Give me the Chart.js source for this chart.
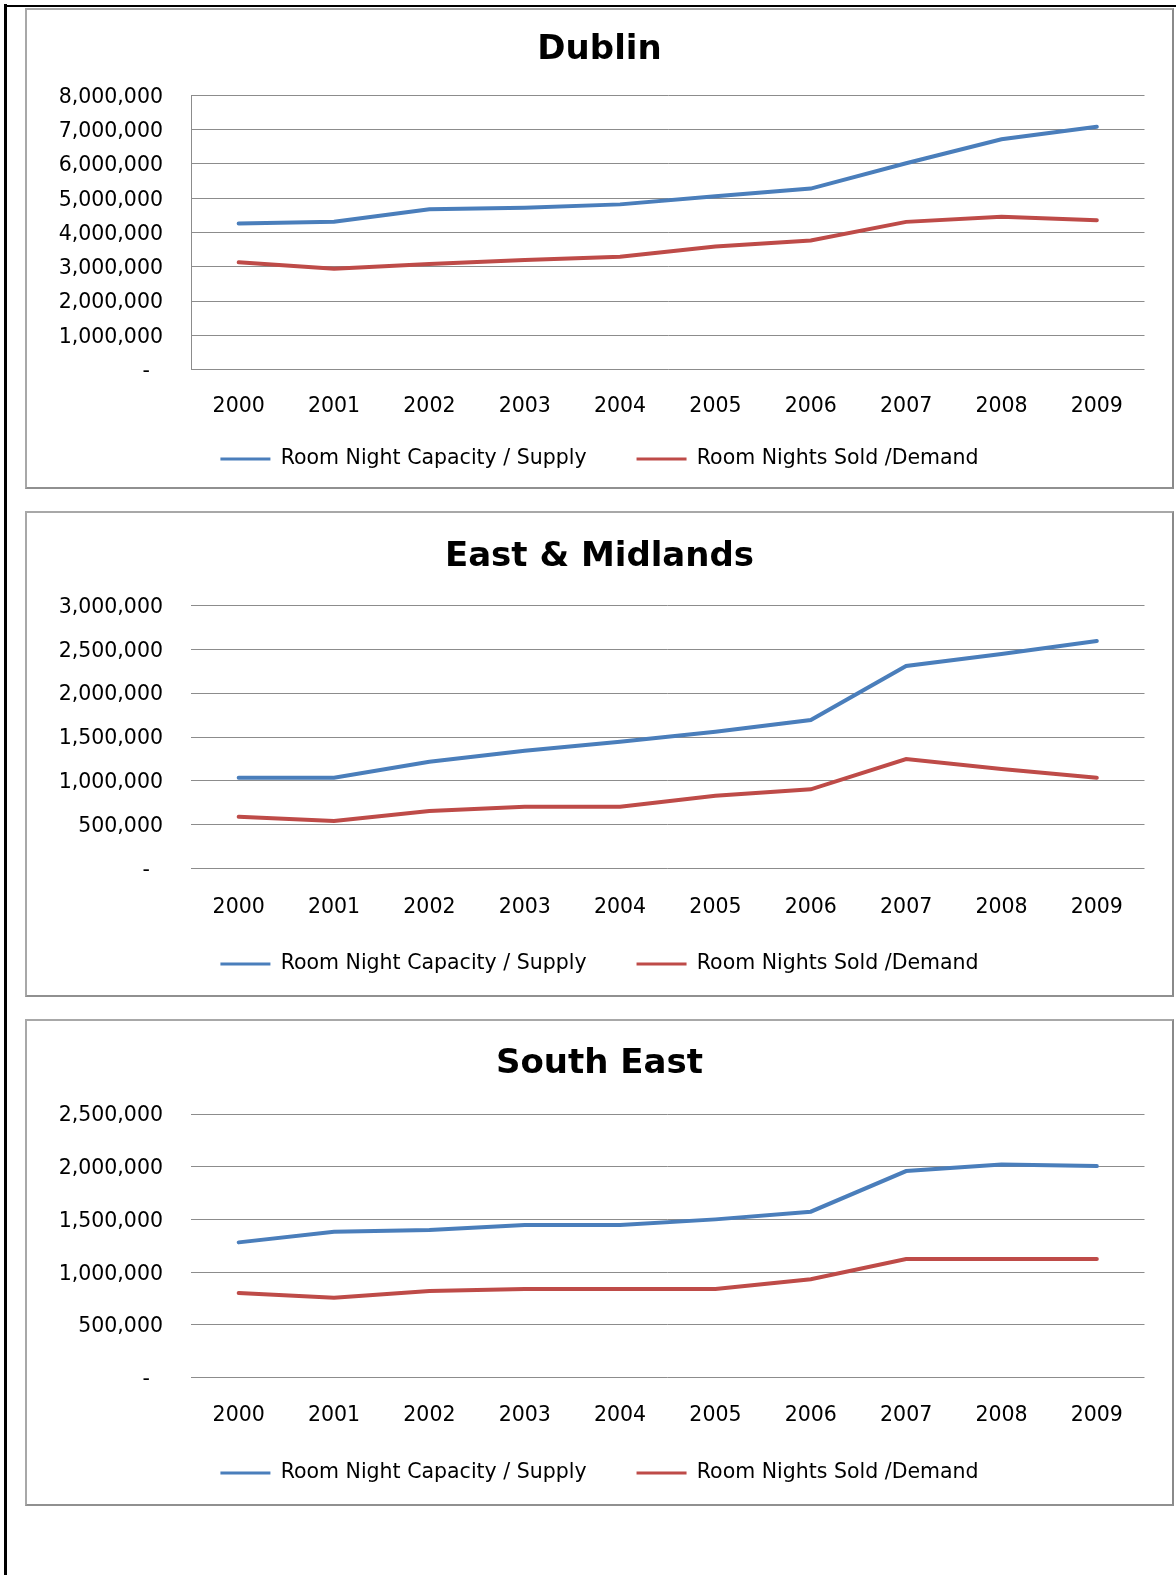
<!DOCTYPE html>
<html>
<head>
<meta charset="utf-8">
<script src="https://cdn.jsdelivr.net/npm/chart.js@4.4.1/dist/chart.umd.min.js"></script>
<style>
  body { margin: 0; background: #fff; width: 1176px; height: 1575px; position: relative; overflow: hidden; }
  .frame-left { position: absolute; left: 4px; top: 4px; width: 3px; height: 1571px; background: #000; }
  .frame-top { position: absolute; left: 4px; top: 5px; width: 1172px; height: 2px; background: #000; }
  .box { position: absolute; box-sizing: border-box; border: 2px solid #a8a8a8; border-right-color: #8a8a8a; border-bottom-color: #909090; background: #fff; }
  .box canvas { position: absolute; left: 0; top: 0; }
</style>
</head>
<body>
<div class="frame-left"></div>
<div class="frame-top"></div>
<div id="page"></div>

<script>
// categorias (años)
const years = ['2000', '2001', '2002', '2003', '2004', '2005', '2006', '2007', '2008', '2009'];

// Dublin
const dublinSupply = [4260000, 4315000, 4676000, 4720000, 4820000, 5060000, 5280000, 6020000, 6720000, 7080000];
const dublinDemand = [3130000, 2940000, 3080000, 3200000, 3290000, 3590000, 3770000, 4310000, 4460000, 4360000];
const dublinTicks = [0, 1000000, 2000000, 3000000, 4000000, 5000000, 6000000, 7000000, 8000000];

// East & Midlands
const eastSupply = [1037000, 1037000, 1219000, 1344000, 1447000, 1560000, 1694000, 2309000, 2445000, 2593000];
const eastDemand = [592000, 543000, 657000, 706000, 706000, 831000, 904000, 1249000, 1135000, 1036000];
const eastTicks = [0, 500000, 1000000, 1500000, 2000000, 2500000, 3000000];

// South East
const southSupply = [1283000, 1384000, 1400000, 1447000, 1447000, 1501000, 1574000, 1959000, 2022000, 2006000];
const southDemand = [803000, 759000, 822000, 841000, 841000, 841000, 933000, 1125000, 1125000, 1125000];
const southTicks = [0, 500000, 1000000, 1500000, 2000000, 2500000];

const seriesNames = ['Room Night Capacity / Supply', 'Room Nights Sold /Demand'];
const BLUE = '#4a7ebb';
const RED = '#be4b48';
const GRID = '#8c8c8c';
const FONT = 'DejaVu Sans';

// posiciones en la página (px)
const boxLeft = 25, boxRight = 1174, border = 2;
const plotLeft = 191, plotRight = 1144.5, yLabelRight = 163;

const panels = [
  { title: 'Dublin', supply: dublinSupply, demand: dublinDemand, ticks: dublinTicks, axisLine: true,
    top: 8, bottom: 489, titleY: 50.5, plotTop: 95.3, plotBottom: 369.7, labelY: 404, legendY: 459 },
  { title: 'East & Midlands', supply: eastSupply, demand: eastDemand, ticks: eastTicks, axisLine: false,
    top: 511, bottom: 997, titleY: 557, plotTop: 605.3, plotBottom: 868.7, labelY: 905, legendY: 964 },
  { title: 'South East', supply: southSupply, demand: southDemand, ticks: southTicks, axisLine: false,
    top: 1019, bottom: 1506, titleY: 1064, plotTop: 1114, plotBottom: 1377.7, labelY: 1413, legendY: 1473 }
];

// El eje X se ajusta más bajo que la leyenda: ampliar su zona de recorte para que se vean las etiquetas
const ampliarEjeX = {
  id: 'ampliarEjeX',
  afterLayout(chart) {
    const s = chart.scales.x;
    s.bottom = s.top + 80;
    s.height = 80;
  }
};

function crearGrafico(p) {
  const box = document.createElement('div');
  box.className = 'box';
  box.style.left = boxLeft + 'px';
  box.style.top = p.top + 'px';
  box.style.width = (boxRight - boxLeft) + 'px';
  box.style.height = (p.bottom - p.top) + 'px';
  document.getElementById('page').appendChild(box);

  const W = boxRight - boxLeft - 2 * border;
  const H = p.bottom - p.top - 2 * border;
  const offX = boxLeft + border;
  const offY = p.top + border;

  const canvas = document.createElement('canvas');
  canvas.width = W;
  canvas.height = H;
  box.appendChild(canvas);

  const titleSize = 34, tickSize = 20.5, legendSize = 20.5, legendPad = 50;
  const titlePadTop = p.titleY - offY - titleSize * 0.6;
  const titlePadBottom = p.plotTop - offY - titlePadTop - titleSize * 1.2;
  const bottomPad = H - legendSize / 2 - 10 - (p.legendY - offY);
  const legendTop = H - bottomPad - (legendSize + legendPad + 10);
  const xAxisHeight = legendTop - (p.plotBottom - offY);

  new Chart(canvas.getContext('2d'), {
    type: 'line',
    data: {
      labels: years,
      datasets: [
        { label: seriesNames[0], data: p.supply, borderColor: BLUE, backgroundColor: BLUE,
          borderWidth: 4, pointRadius: 0, tension: 0, borderCapStyle: 'round' },
        { label: seriesNames[1], data: p.demand, borderColor: RED, backgroundColor: RED,
          borderWidth: 4, pointRadius: 0, tension: 0, borderCapStyle: 'round' }
      ]
    },
    plugins: [ampliarEjeX],
    options: {
      responsive: false,
      animation: false,
      devicePixelRatio: 1,
      layout: { padding: { left: 0, right: 0, top: 0, bottom: bottomPad } },
      plugins: {
        tooltip: { enabled: false },
        title: {
          display: true,
          text: p.title,
          color: '#000',
          font: { family: FONT, size: titleSize, weight: 'bold' },
          padding: { top: titlePadTop, bottom: titlePadBottom }
        },
        legend: {
          position: 'bottom',
          labels: {
            color: '#000',
            font: { family: FONT, size: legendSize },
            boxWidth: 50,
            boxHeight: 3,
            padding: legendPad,
            generateLabels: chart => Chart.defaults.plugins.legend.labels.generateLabels(chart)
              .map(l => Object.assign(l, { lineWidth: 0, fillStyle: l.strokeStyle }))
          }
        }
      },
      scales: {
        x: {
          offset: true,
          grid: { display: false },
          border: { display: false },
          ticks: { color: '#000', font: { family: FONT, size: tickSize }, padding: p.labelY - p.plotBottom - tickSize * 0.6 - 5.5, maxRotation: 0, autoSkip: false },
          afterFit: s => { s.height = xAxisHeight; }
        },
        y: {
          min: p.ticks[0],
          max: p.ticks[p.ticks.length - 1],
          grid: { color: GRID, lineWidth: 1, drawTicks: false },
          border: { display: p.axisLine, color: GRID, width: 1 },
          ticks: {
            color: '#000',
            font: { family: FONT, size: tickSize },
            padding: plotLeft - yLabelRight,
            labelOffset: 2,
            callback: v => v === 0 ? '-  ' : v.toLocaleString('en-US')
          },
          afterBuildTicks: s => { s.ticks = p.ticks.map(v => ({ value: v })); },
          afterFit: s => { s.width = plotLeft - offX; }
        },
        yR: {
          position: 'right',
          display: true,
          grid: { display: false },
          border: { display: false },
          ticks: { display: false },
          afterFit: s => { s.width = offX + W - plotRight; }
        }
      }
    }
  });
}

panels.forEach(crearGrafico);
</script>
</body>
</html>
